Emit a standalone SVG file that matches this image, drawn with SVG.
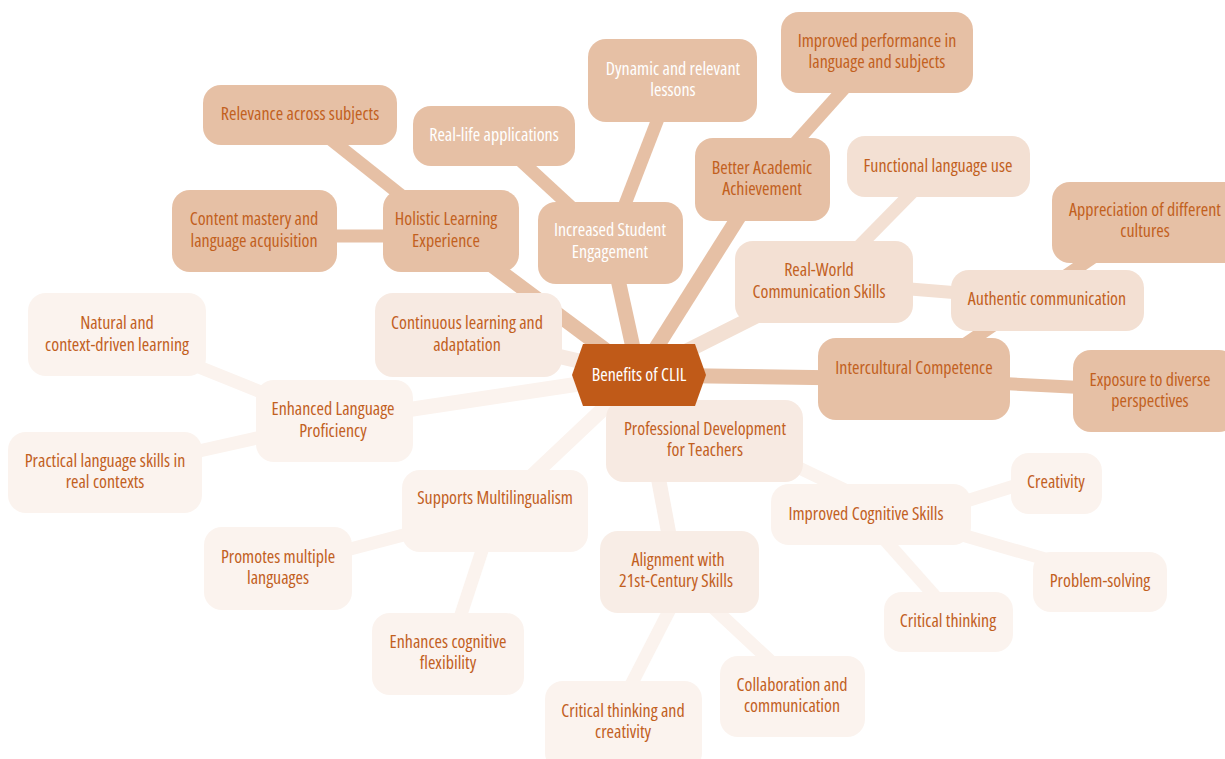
<svg xmlns="http://www.w3.org/2000/svg" width="1225" height="759" viewBox="0 0 1225 759">
<style>
text{font-family:"Open Sans","Liberation Sans Narrow","DejaVu Sans Condensed",sans-serif;font-stretch:condensed;font-size:18px;text-anchor:middle;fill:#c2601e}
.w{fill:#ffffff}
.a{fill:#e6c0a5}
.b{fill:#f3e0d3}
.c{fill:#f7eae2}
.g{fill:#f8ede6}
.d{fill:#fbf3ee}
#edges line{stroke-linecap:butt}
.ea{stroke:#e6c0a5}
.eb{stroke:#f3e0d3}
.ec{stroke:#f7eae2}
.eg{stroke:#f9efe9}
.ed{stroke:#fbf3ee}
.t1{stroke-width:15}
.t2{stroke-width:13}
</style>
<rect width="1225" height="759" fill="#ffffff"/>
<g id="edges">
<line class="ea t1" x1="639" y1="375" x2="446" y2="231"/>
<line class="ea t2" x1="446" y1="231" x2="300" y2="115"/>
<line class="ea t2" x1="446" y1="236" x2="254" y2="236"/>
<line class="ea t1" x1="639" y1="375" x2="610" y2="243"/>
<line class="ea t2" x1="610" y1="243" x2="494" y2="136"/>
<line class="ea t2" x1="610" y1="243" x2="673" y2="80"/>
<line class="ea t1" x1="639" y1="375" x2="762" y2="180"/>
<line class="ea t2" x1="762" y1="180" x2="877" y2="52"/>
<line class="eb t1" x1="639" y1="375" x2="824" y2="282"/>
<line class="eb t2" x1="824" y1="282" x2="938" y2="166"/>
<line class="eb t2" x1="824" y1="282" x2="1047" y2="300"/>
<line class="ea t1" x1="639" y1="375" x2="914" y2="379"/>
<line class="ea t2" x1="914" y1="379" x2="1145" y2="222"/>
<line class="ea t2" x1="914" y1="379" x2="1150" y2="391"/>
<line class="ec t1" x1="639" y1="375" x2="467" y2="335"/>
<line class="ed t1" x1="639" y1="375" x2="333" y2="421"/>
<line class="ed t2" x1="333" y1="421" x2="117" y2="334"/>
<line class="ed t2" x1="333" y1="421" x2="105" y2="472"/>
<line class="ed t1" x1="639" y1="375" x2="495" y2="511"/>
<line class="ed t2" x1="495" y1="511" x2="278" y2="568"/>
<line class="ed t2" x1="495" y1="511" x2="448" y2="654"/>
<line class="ec t1" x1="639" y1="375" x2="705" y2="441"/>
<line class="eg t1" x1="639" y1="375" x2="676" y2="572"/>
<line class="ed t2" x1="689" y1="572" x2="613" y2="720"/>
<line class="ed t2" x1="675" y1="572" x2="809" y2="697"/>
<line class="ed t2" x1="720" y1="430" x2="866" y2="500"/>
<line class="ed t2" x1="880" y1="528" x2="1056" y2="473"/>
<line class="ed t2" x1="866" y1="507" x2="1100" y2="575"/>
<line class="ed t2" x1="862" y1="514" x2="957" y2="621"/>
</g>
<g id="relevance"><rect class="a" x="203" y="85" width="194" height="60" rx="18"/><text x="300" y="120">Relevance across subjects</text></g>
<g id="reallife"><rect class="a" x="413" y="106" width="162" height="60" rx="18"/><text class="w" x="494" y="141">Real-life applications</text></g>
<g id="content"><rect class="a" x="172" y="190" width="165" height="82" rx="18"/><text x="254" y="225">Content mastery and</text><text x="254" y="247">language acquisition</text></g>
<g id="holistic"><rect class="a" x="383" y="190" width="136" height="82" rx="18"/><text x="446" y="225">Holistic Learning</text><text x="446" y="247">Experience</text></g>
<g id="engagement"><rect class="a" x="538" y="202" width="145" height="82" rx="18"/><text class="w" x="610" y="236">Increased Student</text><text class="w" x="610" y="258">Engagement</text></g>
<g id="dynamic"><rect class="a" x="588" y="39" width="169" height="83" rx="18"/><text class="w" x="673" y="75">Dynamic and relevant</text><text class="w" x="673" y="96">lessons</text></g>
<g id="academic"><rect class="a" x="695" y="138" width="135" height="83" rx="18"/><text x="762" y="174">Better Academic</text><text x="762" y="195">Achievement</text></g>
<g id="improved"><rect class="a" x="781" y="12" width="192" height="81" rx="18"/><text x="877" y="47">Improved performance in</text><text x="877" y="68">language and subjects</text></g>
<g id="functional"><rect class="b" x="847" y="136" width="183" height="61" rx="18"/><text x="938" y="172">Functional language use</text></g>
<g id="appreciation"><rect class="a" x="1052" y="182" width="190" height="81" rx="18"/><text x="1145" y="216">Appreciation of different</text><text x="1145" y="237">cultures</text></g>
<g id="realworld"><rect class="b" x="735" y="241" width="178" height="82" rx="18"/><text x="819" y="276">Real-World</text><text x="819" y="298">Communication Skills</text></g>
<g id="authentic"><rect class="b" x="951" y="270" width="193" height="61" rx="18"/><text x="1047" y="305">Authentic communication</text></g>
<g id="intercultural"><rect class="a" x="818" y="338" width="192" height="82" rx="18"/><text x="914" y="374">Intercultural Competence</text></g>
<g id="exposure"><rect class="a" x="1073" y="350" width="164" height="82" rx="18"/><text x="1150" y="386">Exposure to diverse</text><text x="1150" y="407">perspectives</text></g>
<g id="continuous"><rect class="c" x="375" y="293" width="187" height="84" rx="18"/><text x="467" y="329">Continuous learning and</text><text x="467" y="351">adaptation</text></g>
<g id="natural"><rect class="d" x="28" y="293" width="178" height="83" rx="18"/><text x="117" y="329">Natural and</text><text x="117" y="351">context-driven learning</text></g>
<g id="elp"><rect class="d" x="256" y="380" width="157" height="82" rx="18"/><text x="333" y="415">Enhanced Language</text><text x="333" y="437">Proficiency</text></g>
<g id="practical"><rect class="d" x="8" y="432" width="194" height="81" rx="18"/><text x="105" y="467">Practical language skills in</text><text x="105" y="488">real contexts</text></g>
<g id="multilingualism"><rect class="d" x="402" y="470" width="186" height="82" rx="18"/><text x="495" y="504">Supports Multilingualism</text></g>
<g id="promotes"><rect class="d" x="204" y="527" width="148" height="83" rx="18"/><text x="278" y="563">Promotes multiple</text><text x="278" y="584">languages</text></g>
<g id="enhances"><rect class="d" x="372" y="613" width="152" height="82" rx="18"/><text x="448" y="648">Enhances cognitive</text><text x="448" y="669">flexibility</text></g>
<g id="profdev"><rect class="c" x="606" y="400" width="197" height="82" rx="18"/><text x="705" y="435">Professional Development</text><text x="705" y="456">for Teachers</text></g>
<g id="alignment"><rect class="g" x="600" y="531" width="159" height="82" rx="18"/><text x="678" y="566">Alignment with</text><text x="676" y="587">21st-Century Skills</text></g>
<g id="critcreat"><rect class="d" x="545" y="681" width="157" height="90" rx="18"/><text x="623" y="717">Critical thinking and</text><text x="623" y="738">creativity</text></g>
<g id="collab"><rect class="d" x="720" y="656" width="145" height="81" rx="18"/><text x="792" y="691">Collaboration and</text><text x="792" y="712">communication</text></g>
<g id="cognitive"><rect class="d" x="771" y="484" width="200" height="61" rx="18"/><text x="866" y="520">Improved Cognitive Skills</text></g>
<g id="creativity"><rect class="d" x="1011" y="453" width="91" height="61" rx="18"/><text x="1056" y="488">Creativity</text></g>
<g id="problem"><rect class="d" x="1033" y="552" width="134" height="60" rx="18"/><text x="1100" y="587">Problem-solving</text></g>
<g id="critical"><rect class="d" x="884" y="592" width="129" height="60" rx="18"/><text x="948" y="627">Critical thinking</text></g>
<g id="center"><polygon points="583,344 695,344 706,375 695,406 583,406 572,375" fill="#c05a18"/><text class="w" x="639" y="381">Benefits of CLIL</text></g>
</svg>
